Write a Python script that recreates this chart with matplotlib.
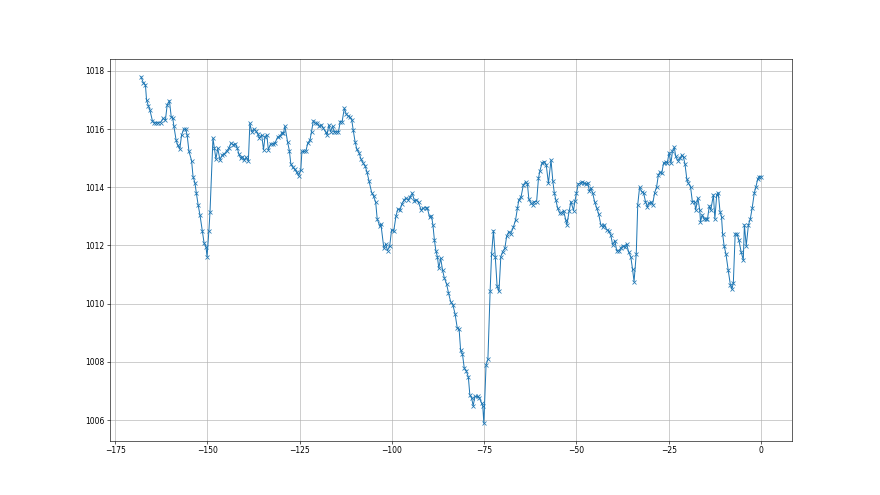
import matplotlib
matplotlib.use("Agg")
import matplotlib.pyplot as plt

# hours relative to now, and pressure (hPa)
hours = [
    -168.0, -167.4, -166.8, -166.5, -166.0, -165.6, -164.9, -164.5, -164.0, -163.3,
    -162.7, -162.0, -161.4, -160.9, -160.3, -159.8, -159.4, -159.1, -158.5, -158.1,
    -157.5, -157.0, -156.4, -155.9, -155.5, -155.0, -154.3, -153.9, -153.4, -153.0,
    -152.5, -152.0, -151.4, -150.9, -150.4, -150.1, -149.6, -149.3,
    -148.5, -148.1, -147.7, -147.2, -146.6, -146.0, -145.4, -144.8, -144.2, -143.6,
    -143.0, -142.4, -141.9, -141.5, -141.0, -140.5, -140.0, -139.5, -138.9, -138.5,
    -138.0, -137.4, -136.9, -136.4, -135.9, -135.3, -134.8, -134.4, -133.9, -133.5,
    -132.9, -132.3, -131.7, -131.0, -130.3, -129.8, -129.4, -129.0,
    -128.3, -127.8, -127.4, -126.9, -126.4, -125.8, -125.3, -124.7, -124.4, -123.8,
    -123.3, -122.8, -122.2, -121.8, -121.3, -120.8, -120.2, -119.7, -119.1, -118.6,
    -118.0, -117.6, -117.1, -116.6, -116.1, -115.6, -115.1, -114.5, -114.0, -113.5,
    -112.9, -112.4, -111.9, -111.4, -110.9, -110.5, -110.0, -109.5, -108.9,
    -108.4, -107.9, -107.3, -106.8, -106.2, -105.5, -105.0, -104.4, -104.0, -103.3,
    -103.0, -102.2, -101.7, -101.2, -100.6, -100.1, -99.5, -98.9, -98.4, -97.8,
    -97.3, -96.7, -96.2, -95.6, -95.0, -94.5, -93.9, -93.4, -92.8, -92.1,
    -91.6, -90.9, -90.4, -89.8, -89.3, -88.9, -88.5,
    -88.1, -87.7, -87.3, -86.8, -86.3, -85.8, -85.2, -84.7, -84.1, -83.5,
    -82.9, -82.3, -81.8, -81.4, -80.9, -80.4, -79.9, -79.3, -78.9, -78.4,
    -78.0, -77.5, -76.8, -76.3, -75.7, -75.4, -75.1, -74.5, -74.0, -73.4,
    -73.0, -72.5, -72.0, -71.5, -71.0, -70.5, -70.0, -69.4,
    -68.9, -68.3, -67.8, -67.1, -66.5, -66.0, -65.6, -65.0, -64.4, -63.8,
    -63.3, -62.9, -62.3, -61.9, -61.4, -60.8, -60.3, -59.9, -59.3, -58.7,
    -58.2, -57.6, -56.9, -56.4, -56.0, -55.6, -55.1, -54.5, -54.0, -53.5,
    -52.9, -52.6, -52.0, -51.5, -50.8, -50.4, -50.0, -49.5, -48.9, -48.4, -47.9,
    -47.4, -46.9, -46.5, -46.1, -45.6, -45.1, -44.5, -44.0, -43.4, -42.9,
    -42.5, -41.8, -41.3, -40.7, -40.2, -39.6, -39.1, -38.5, -38.0, -37.5,
    -36.9, -36.4, -35.9, -35.3, -34.8, -34.4, -33.8, -33.4, -32.9, -32.3,
    -31.8, -31.3, -30.8, -30.4, -29.9, -29.4, -28.8, -28.3, -27.8, -27.4,
    -26.9, -26.4, -25.8, -25.4, -24.9, -24.4, -24.0, -23.5, -23.1, -22.6,
    -21.9, -21.5, -21.0, -20.6, -20.1, -19.7, -19.1, -18.6, -18.0, -17.7,
    -17.1, -16.6, -16.4, -15.9, -15.4, -14.9, -14.5, -14.0, -13.6, -12.9,
    -12.5, -12.0, -11.6, -11.1, -10.7, -10.4, -10.0, -9.5, -8.9, -8.3,
    -7.9, -7.5, -7.0, -6.5, -6.0, -5.4, -4.8, -4.5, -4.0, -3.4,
    -2.9, -2.4, -1.8, -1.4, -0.9, -0.5, 0.0,
]

pressure = [
    1017.80, 1017.60, 1017.52, 1017.00, 1016.80, 1016.66, 1016.28, 1016.22, 1016.22, 1016.22,
    1016.22, 1016.37, 1016.30, 1016.83, 1016.98, 1016.41, 1016.38, 1016.11, 1015.63, 1015.46,
    1015.31, 1015.80, 1016.00, 1016.00, 1015.80, 1015.23, 1014.92, 1014.37, 1014.16, 1013.80,
    1013.38, 1013.03, 1012.50, 1012.08, 1011.96, 1011.62, 1012.51, 1013.16,
    1015.69, 1015.34, 1014.97, 1015.34, 1014.94, 1015.11, 1015.15, 1015.25, 1015.34, 1015.52,
    1015.46, 1015.49, 1015.34, 1015.15, 1015.00, 1015.05, 1014.94, 1015.03, 1014.91, 1016.20,
    1015.91, 1016.00, 1015.94, 1015.84, 1015.69, 1015.80, 1015.29, 1015.74, 1015.80, 1015.29,
    1015.49, 1015.49, 1015.52, 1015.72, 1015.77, 1015.88, 1015.86, 1016.10,
    1015.57, 1015.26, 1014.80, 1014.69, 1014.62, 1014.51, 1014.39, 1014.60, 1015.23, 1015.23,
    1015.26, 1015.52, 1015.63, 1015.91, 1016.29, 1016.20, 1016.20, 1016.09, 1016.14, 1016.03,
    1015.91, 1015.80, 1016.14, 1015.91, 1016.09, 1015.91, 1015.91, 1015.91, 1016.26, 1016.26,
    1016.72, 1016.52, 1016.45, 1016.41, 1016.32, 1015.97, 1015.57, 1015.30, 1015.18,
    1014.97, 1014.85, 1014.74, 1014.54, 1014.20, 1013.82, 1013.70, 1013.48, 1012.91, 1012.67,
    1012.74, 1011.91, 1012.05, 1011.82, 1011.99, 1012.54, 1012.51, 1013.02, 1013.25, 1013.22,
    1013.43, 1013.57, 1013.63, 1013.57, 1013.68, 1013.80, 1013.53, 1013.57, 1013.48, 1013.22,
    1013.28, 1013.30, 1013.28, 1012.97, 1013.02, 1012.71, 1012.19,
    1011.82, 1011.62, 1011.22, 1011.56, 1011.16, 1010.88, 1010.68, 1010.38, 1010.07, 1009.96,
    1009.65, 1009.16, 1009.12, 1008.41, 1008.27, 1007.78, 1007.70, 1007.48, 1006.87, 1006.75,
    1006.49, 1006.81, 1006.81, 1006.75, 1006.58, 1006.49, 1005.89, 1007.90, 1008.09, 1010.42,
    1011.71, 1012.51, 1011.60, 1010.59, 1010.42, 1011.62, 1011.79, 1011.91,
    1012.33, 1012.48, 1012.40, 1012.63, 1012.88, 1013.28, 1013.57, 1013.68, 1014.08, 1014.19,
    1014.12, 1013.59, 1013.45, 1013.40, 1013.51, 1013.51, 1014.31, 1014.57, 1014.85, 1014.88,
    1014.77, 1014.14, 1014.94, 1014.20, 1013.80, 1013.57, 1013.28, 1013.11, 1013.13, 1013.20,
    1012.88, 1012.71, 1013.17, 1013.51, 1013.20, 1013.54, 1013.80, 1014.12, 1014.14, 1014.19, 1014.14,
    1014.12, 1014.14, 1013.86, 1013.97, 1013.80, 1013.51, 1013.28, 1013.09, 1012.71, 1012.65,
    1012.71, 1012.54, 1012.51, 1012.36, 1012.02, 1012.17, 1011.82, 1011.82, 1011.91, 1011.99,
    1011.96, 1012.05, 1011.79, 1011.62, 1011.18, 1010.76, 1011.71, 1013.40, 1014.00, 1013.85,
    1013.80, 1013.51, 1013.32, 1013.45, 1013.48, 1013.40, 1013.82, 1014.00, 1014.43, 1014.51,
    1014.48, 1014.83, 1014.88, 1014.83, 1015.19, 1014.83, 1015.23, 1015.38, 1015.06, 1014.92,
    1015.00, 1015.11, 1015.03, 1014.80, 1014.28, 1014.14, 1014.02, 1013.51, 1013.51, 1013.22,
    1013.63, 1013.22, 1012.82, 1013.05, 1012.91, 1012.91, 1012.91, 1013.36, 1013.22, 1013.74,
    1012.91, 1013.74, 1013.82, 1013.16, 1012.99, 1012.40, 1011.99, 1011.71, 1011.16, 1010.65,
    1010.50, 1010.70, 1012.40, 1012.40, 1012.19, 1011.79, 1011.50, 1012.71, 1011.99, 1012.71,
    1012.91, 1013.28, 1013.82, 1014.00, 1014.28, 1014.37, 1014.37,
]

fig, ax = plt.subplots(figsize=(16, 9), dpi=55)
ax.plot(hours, pressure, marker="x", markersize=5, linewidth=1.3, color="#1f77b4")
ax.grid(True, color="#b0b0b0", linewidth=0.8)
ax.set_axisbelow(True)

fig.savefig("out.png", dpi=55)
